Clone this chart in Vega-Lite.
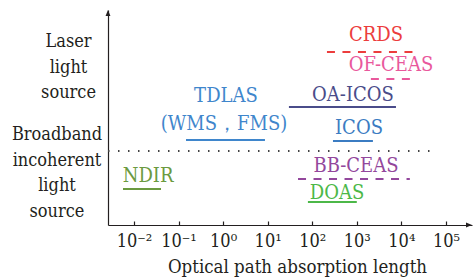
{
  "$schema": "https://vega.github.io/schema/vega-lite/v6.json",
  "width": 364,
  "height": 215,
  "autosize": {"type": "none"},
  "padding": {"left": 108, "top": 10, "right": 1, "bottom": 53},
  "background": "white",
  "config": {
    "view": {"stroke": null},
    "axis": {"grid": false, "domainColor": "#231f20", "domainWidth": 1.2}
  },
  "datasets": {
    "segments": [
      {"method": "CRDS", "line": "dashed", "from": 214, "to": 18300, "level": 173},
      {"method": "OF-CEAS", "line": "dashed", "from": 2070, "to": 17400, "level": 146},
      {"method": "OA-ICOS", "line": "solid", "from": 30, "to": 7570, "level": 118},
      {"method": "TDLAS", "line": "solid", "from": 0.147, "to": 8.7, "level": 85},
      {"method": "ICOS", "line": "solid", "from": 292, "to": 2300, "level": 84},
      {"method": "boundary", "line": "dotted", "from": 0.002615, "to": 49300, "level": 74},
      {"method": "BB-CEAS", "line": "dashed", "from": 48, "to": 15500, "level": 46},
      {"method": "DOAS", "line": "solid", "from": 80, "to": 1000, "level": 23},
      {"method": "NDIR", "line": "solid", "from": 0.00568, "to": 0.0404, "level": 36}
    ],
    "labels": [
      {"method": "CRDS", "label": "CRDS", "x": 2700, "level": 190.5},
      {"method": "OF-CEAS", "label": "OF-CEAS", "x": 5850, "level": 160},
      {"method": "OA-ICOS", "label": "OA-ICOS", "x": 822, "level": 130},
      {"method": "TDLAS", "label": "TDLAS", "x": 1.16, "level": 129},
      {"method": "TDLAS", "label": "(WMS，FMS)", "x": 1.05, "level": 101},
      {"method": "ICOS", "label": "ICOS", "x": 1120, "level": 97},
      {"method": "BB-CEAS", "label": "BB-CEAS", "x": 959, "level": 59},
      {"method": "NDIR", "label": "NDIR", "x": 0.0207, "level": 49},
      {"method": "DOAS", "label": "DOAS", "x": 360, "level": 32}
    ],
    "sources": [
      {"label": "Laser\nlight\nsource", "x": 0.00034, "level": 183},
      {"label": "Broadband\nincoherent\nlight\nsource", "x": 0.0001875, "level": 90}
    ],
    "arrows": [
      {"dir": "up", "x": 0.002615, "level": 211.5},
      {"dir": "right", "x": 320600, "level": 0}
    ]
  },
  "layer": [
    {
      "data": {"name": "segments"},
      "mark": {"type": "rule", "strokeWidth": 2},
      "encoding": {
        "x": {
          "field": "from", "type": "quantitative",
          "scale": {"type": "log", "domain": [0.002615, 384600], "nice": false},
          "axis": {
            "values": [0.01, 0.1, 1, 10, 100, 1000, 10000, 100000],
            "labelExpr": "'10' + ['⁻²','⁻¹','⁰','¹','²','³','⁴','⁵'][round(log(datum.value)/LN10)+2]",
            "labelFont": "DejaVu Serif Condensed",
            "labelFontSize": 18,
            "labelColor": "#231f20",
            "labelPadding": 11,
            "tickSize": -4,
            "tickColor": "#231f20",
            "tickWidth": 1.2,
            "title": "Optical path absorption length",
            "titleFont": "DejaVu Serif Condensed",
            "titleFontSize": 18.5,
            "titleFontWeight": "normal",
            "titleColor": "#231f20",
            "titlePadding": 7,
            "titleX": 189
          }
        },
        "x2": {"field": "to"},
        "y": {
          "field": "level", "type": "quantitative",
          "scale": {"domain": [0, 215], "nice": false, "zero": false},
          "axis": {"labels": false, "ticks": false, "title": null}
        },
        "color": {
          "field": "method", "type": "nominal", "legend": null,
          "scale": {
            "domain": ["CRDS", "OF-CEAS", "OA-ICOS", "TDLAS", "ICOS", "BB-CEAS", "DOAS", "NDIR", "boundary"],
            "range": ["#ec3d3d", "#e9589c", "#4a4c8a", "#3f86cc", "#3b7cc2", "#93479c", "#4cb848", "#6b9a40", "#444444"]
          }
        },
        "strokeDash": {
          "field": "line", "type": "nominal", "legend": null,
          "scale": {"domain": ["solid", "dashed", "dotted"], "range": [[1, 0], [8, 7.5], [1.5, 8.5]]}
        }
      }
    },
    {
      "data": {"name": "labels"},
      "mark": {"type": "text", "font": "DejaVu Serif Condensed", "fontSize": 20, "baseline": "middle", "align": "center"},
      "encoding": {
        "x": {"field": "x", "type": "quantitative"},
        "y": {"field": "level", "type": "quantitative"},
        "text": {"field": "label"},
        "color": {"field": "method", "type": "nominal", "legend": null}
      }
    },
    {
      "data": {"name": "sources"},
      "mark": {"type": "text", "font": "DejaVu Serif Condensed", "fontSize": 18, "baseline": "middle", "align": "center", "lineBreak": "\n", "lineHeight": 25.5, "color": "#231f20"},
      "encoding": {
        "x": {"field": "x", "type": "quantitative"},
        "y": {"field": "level", "type": "quantitative"},
        "text": {"field": "label"}
      }
    },
    {
      "data": {"name": "arrows"},
      "mark": {"type": "point", "filled": true, "size": 49, "opacity": 1, "color": "#231f20"},
      "encoding": {
        "x": {"field": "x", "type": "quantitative"},
        "y": {"field": "level", "type": "quantitative"},
        "shape": {
          "field": "dir", "type": "nominal", "legend": null,
          "scale": {"domain": ["up", "right"], "range": ["M0,-1L0.7,0.7L-0.7,0.7Z", "M1,0L-0.7,0.7L-0.7,-0.7Z"]}
        }
      }
    }
  ]
}
